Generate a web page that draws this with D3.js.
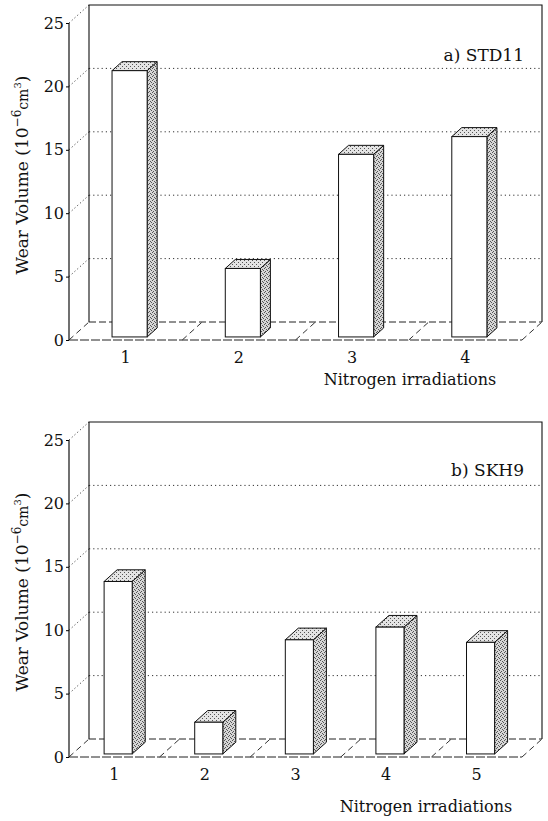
<!DOCTYPE html>
<html lang="en">
<head>
  <meta charset="UTF-8">
  <title>Wear volume</title>
  <style>
    *{ margin:0; padding:0; box-sizing:border-box }
    html, body { width:100%; height:100%; background:#fff; overflow:hidden }
    svg { position:absolute; top:0; left:0 }
    text { font-family:"DejaVu Serif", "Liberation Serif", serif; fill:#111 }
  </style>
</head>
<body>
  <svg id="chart" width="548" height="821"></svg>
  <script src="https://cdn.jsdelivr.net/npm/d3@7/dist/d3.min.js"></script>
  <script>
    // data
    const catsA  = ["1","2","3","4"],
          valsA  = [21.0, 5.4, 14.4, 15.8];
    const catsB  = ["1","2","3","4","5"],
          valsB  = [13.6, 2.5, 9.0, 10.0, 8.8];
    const yTicks = [0,5,10,15,20,25];
    const titles = ["a) STD11","b) SKH9"];
    const xTitle = "Nitrogen irradiations";

    const svg = d3.select("#chart"),
          DX = 20, DY = 18;   // oblique depth of the box

    // stipple fills for the shaded faces
    const defs = svg.append("defs");
    function stipple(id, bg, dots){
      const p = defs.append("pattern").attr("id",id)
        .attr("width",4).attr("height",4).attr("patternUnits","userSpaceOnUse");
      p.append("rect").attr("width",4).attr("height",4).attr("fill",bg);
      dots.forEach(d=>p.append("rect").attr("x",d[0]).attr("y",d[1])
        .attr("width",1).attr("height",1).attr("fill","#555"));
    }
    stipple("side", "#d6d6d6", [[0,0],[2,1],[1,3],[3,2]]);
    stipple("top",  "#e4e4e4", [[0,0],[2,2]]);

    function panel(cats, vals, opt){
      const g = svg.append("g");
      const x = d3.scaleBand().domain(cats).range([69,522]).padding(0),
            y = d3.scaleLinear().domain([0,25]).range([opt.y0, opt.y0 - 317]);
      const px = (a,z)=>a + DX*z, py = (b,z)=>b - DY*z;
      const line = (pts)=>d3.line()(pts);

      // back wall grid lines (dotted) and their depth diagonals
      yTicks.filter(t=>t>0 && t<25).forEach(t=>{
        g.append("line").attr("x1",px(69,1)).attr("x2",px(522,1))
          .attr("y1",py(y(t),1)).attr("y2",py(y(t),1))
          .attr("stroke","#333").attr("stroke-width",1).attr("stroke-dasharray","1.2,3");
      });
      yTicks.filter(t=>t>0).forEach(t=>{
        g.append("line").attr("x1",69).attr("y1",y(t))
          .attr("x2",px(69,1)).attr("y2",py(y(t),1))
          .attr("stroke","#444").attr("stroke-dasharray","1.2,2.5");
      });

      // wall frame
      g.append("path")
        .attr("d", line([[px(69,1),py(y(0),1)],[px(69,1),py(y(25),1)],
                         [px(522,1),py(y(25),1)],[px(522,1),py(y(0),1)]]))
        .attr("fill","none").attr("stroke","#111").attr("stroke-width",1.1);
      // floor: back and front edges and depth lines at the band borders
      g.append("line").attr("x1",px(69,1)).attr("x2",px(522,1))
        .attr("y1",py(y(0),1)).attr("y2",py(y(0),1))
        .attr("stroke","#222").attr("stroke-dasharray","7,3");
      g.append("line").attr("x1",69).attr("x2",522)
        .attr("y1",y(0)).attr("y2",y(0))
        .attr("stroke","#222").attr("stroke-dasharray","9,2");
      const borders = cats.map(c=>x(c)).concat([522]);
      borders.forEach(b=>{
        g.append("line").attr("x1",b).attr("y1",y(0))
          .attr("x2",px(b,1)).attr("y2",py(y(0),1))
          .attr("stroke","#333").attr("stroke-dasharray","6,4");
      });

      // front value axis
      g.append("line").attr("x1",69).attr("x2",69)
        .attr("y1",y(0)).attr("y2",y(25)).attr("stroke","#111").attr("stroke-width",1.2);
      const ax = g.append("g").attr("transform","translate(69,0)")
        .call(d3.axisLeft(y).tickValues(yTicks).tickSize(3).tickPadding(2));
      ax.select(".domain").remove();
      ax.selectAll("text").attr("font-size",16)
        .style("font-family","DejaVu Serif, serif").attr("fill","#111");

      // bars
      const z0 = 0.17, z1 = z0 + opt.depth;
      const bw = x.bandwidth();
      cats.forEach((c,i)=>{
        const a = x(c) + bw*0.35, b = a + bw*0.31,
              top = y(vals[i]), bot = y(0);
        const bar = g.append("g");
        bar.append("path").attr("d", line([[px(b,z0),py(top,z0)],[px(b,z1),py(top,z1)],
            [px(b,z1),py(bot,z1)],[px(b,z0),py(bot,z0)]]) + "Z")
          .attr("fill","url(#side)").attr("stroke","#111");
        bar.append("path").attr("d", line([[px(a,z0),py(top,z0)],[px(b,z0),py(top,z0)],
            [px(b,z1),py(top,z1)],[px(a,z1),py(top,z1)]]) + "Z")
          .attr("fill","url(#top)").attr("stroke","#111");
        bar.append("rect").attr("x",px(a,z0)).attr("y",py(top,z0))
          .attr("width",b-a).attr("height",bot-top)
          .attr("fill","#fff").attr("stroke","#111");
      });

      // category labels
      g.selectAll(".cat").data(cats).join("text").attr("class","cat")
        .attr("x",d=>x(d)+bw/2).attr("y",opt.y0+23)
        .attr("text-anchor","middle").attr("font-size",16).text(d=>d);

      // panel title
      g.append("text").attr("x",524).attr("y",opt.titleY)
        .attr("text-anchor","end").attr("font-size",17).text(opt.title);

      // axis titles
      g.append("text").attr("x",opt.xtX).attr("y",opt.xtY)
        .attr("text-anchor","middle").attr("font-size",16).text(xTitle);
      const yl = g.append("text")
        .attr("transform",`translate(28,${opt.ylY}) rotate(-90)`)
        .attr("text-anchor","middle").attr("font-size",17);
      yl.append("tspan").text("Wear Volume (10");
      yl.append("tspan").attr("dy",-7).attr("font-size",12).text("−6");
      yl.append("tspan").attr("dy",7).attr("font-size",14).text("cm");
      yl.append("tspan").attr("dy",-7).attr("font-size",10).text("3");
      yl.append("tspan").attr("dy",7).text(")");
    }

    panel(catsA, valsA, {y0:340, depth:0.5,  title:titles[0], titleY:61,
                          xtX:410, xtY:385, ylY:175});
    panel(catsB, valsB, {y0:757, depth:0.65, title:titles[1], titleY:476,
                          xtX:426, xtY:812, ylY:592});
  </script>
</body>
</html>
